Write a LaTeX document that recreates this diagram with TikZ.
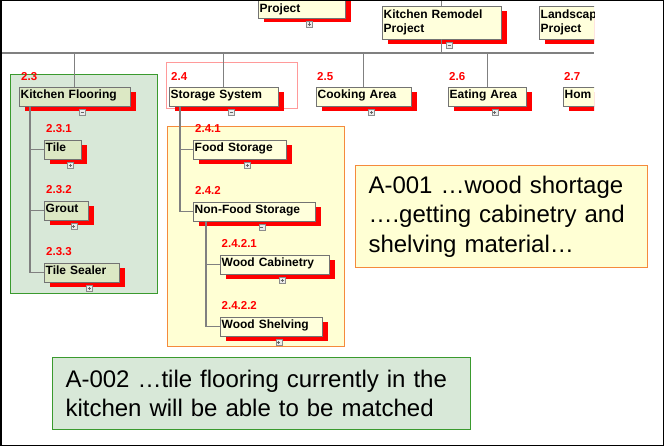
\documentclass[tikz,border=0pt]{standalone}
\usepackage{fontspec}
\setmainfont{Liberation Sans}
\usetikzlibrary{positioning,shadows,calc}
\definecolor{cream}{HTML}{FFFFDC}
\definecolor{leafgreen}{HTML}{DCE8C4}
\definecolor{greenbg}{HTML}{D8E8D8}
\definecolor{greenln}{HTML}{3A9A2E}
\definecolor{yellowbg}{HTML}{FFFFD4}
\definecolor{orangeln}{HTML}{F58A3C}
\definecolor{pinkln}{HTML}{FF9A9A}

\begin{document}
\begin{tikzpicture}[x=1pt, y=-1pt,
    wbs/.style={draw=black!55, fill=cream, anchor=north west, align=left, inner xsep=1.5pt, inner ysep=2pt,
                text height=9pt, text depth=6pt, font=\fontsize{12}{14}\selectfont\bfseries,
                drop shadow={shadow xshift=5.5pt, shadow yshift=-4.5pt, fill=red, opacity=1}},
    twoline/.style={text height=, text depth=, minimum height=33pt},
    num/.style={font=\fontsize{11.5}{12}\selectfont\bfseries, text=red, inner sep=0pt},
    conn/.style={draw=black!50, line width=1.2pt},
    tog/.style={draw=black!45, fill=black!8, minimum size=6pt, inner sep=0pt},
    tminus/.style={tog, path picture={\draw[black!60, line width=0.6pt]
        ([xshift=1.3pt]path picture bounding box.west) -- ([xshift=-1.3pt]path picture bounding box.east);}},
    tplus/.style={tog, path picture={\draw[black!60, line width=0.6pt]
        ([xshift=1.3pt]path picture bounding box.west) -- ([xshift=-1.3pt]path picture bounding box.east)
        ([yshift=-1.3pt]path picture bounding box.north) -- ([yshift=1.3pt]path picture bounding box.south);}},
    note/.style={anchor=north west, align=left, inner xsep=13pt, font=\fontsize{24}{29.5}\selectfont},
]
\useasboundingbox (0,0) rectangle (664,446);

\begin{scope}
\clip (2,2) rectangle (594,444);
\fill[greenbg, draw=greenln, line width=1pt] (10,75) rectangle (157,294);
\fill[yellowbg, draw=orangeln, line width=1pt] (167,127) rectangle (344,346);
\draw[pinkln, line width=1pt] (166,63) rectangle (297,109);

\coordinate (top) at (0,0);
\coordinate (busL) at (2,53);
\coordinate (busR) at (594,53);

\node[wbs, anchor=south west, text width=84pt, text height=24pt, text depth=3pt] (proj) at (258,18) {Project};
\node[wbs, twoline, text width=116pt] (kr) at (382,6) {Kitchen Remodel\\Project};
\node[wbs, twoline, text width=70pt] (land) at (539,6) {Landscap\\Project};

\node[wbs, fill=leafgreen, text width=108pt] (kf) at (19,87) {Kitchen Flooring};
\node[wbs, text width=106pt] (ss) at (169,87) {Storage System};
\node[wbs, text width=92pt] (ca) at (316,87) {Cooking Area};
\node[wbs, text width=75pt] (ea) at (448,87) {Eating Area};
\node[wbs, text width=60pt] (hom) at (563,87) {Hom};

\node[wbs, fill=leafgreen, text width=34pt] (tile) at (44,140) {Tile};
\node[wbs, fill=leafgreen, text width=41pt] (grout) at (44,201) {Grout};
\node[wbs, fill=leafgreen, text width=72pt] (sealer) at (44,263) {Tile Sealer};

\node[wbs, text width=90pt] (food) at (193,140) {Food Storage};
\node[wbs, text width=119pt] (nonfood) at (193,202) {Non-Food Storage};
\node[wbs, text width=106pt] (cab) at (220,255) {Wood Cabinetry};
\node[wbs, text width=99pt] (shelf) at (220,317) {Wood Shelving};

\node[num, above right=6pt and 2pt of kf.north west] (n23) {2.3};
\node[num, above right=6pt and 2pt of ss.north west] (n24) {2.4};
\node[num, above right=6pt and 1pt of ca.north west] (n25) {2.5};
\node[num, above right=6pt and 1pt of ea.north west] (n26) {2.6};
\node[num, above right=6pt and 1pt of hom.north west] (n27) {2.7};
\node[num, above right=7pt and 2pt of tile.north west] (n231) {2.3.1};
\node[num, above right=7pt and 2pt of grout.north west] (n232) {2.3.2};
\node[num, above right=7pt and 2pt of sealer.north west] (n233) {2.3.3};
\node[num, above right=7pt and 2pt of food.north west] (n241) {2.4.1};
\node[num, above right=7pt and 2pt of nonfood.north west] (n242) {2.4.2};
\node[num, above right=7pt and 1.5pt of cab.north west] (n2421) {2.4.2.1};
\node[num, above right=7pt and 1.5pt of shelf.north west] (n2422) {2.4.2.2};

\draw[conn] (busL) -- (busR);
\draw[conn] (kr.north) -- (kr.north |- top);
\draw[conn] (kr.south) -- (kr.south |- busL);
\foreach \n in {kf,ss,ca,ea}
  \draw[conn] (\n.north) -- (\n.north |- busL);
\foreach \c in {tile,grout,sealer}
  \draw[conn] ([xshift=11pt]kf.south west) |- (\c.west);
\foreach \c in {food,nonfood}
  \draw[conn] ([xshift=11pt]ss.south west) |- (\c.west);
\foreach \c in {cab,shelf}
  \draw[conn] ([xshift=13pt]nonfood.south west) |- (\c.west);

\foreach \n in {kr,kf,ss,nonfood}
  \node[tminus] (\n-t) at ([xshift=7.5pt,yshift=-6pt]\n.south) {};
\foreach \n in {proj,ca,ea,tile,grout,sealer,food,cab,shelf}
  \node[tplus] (\n-t) at ([xshift=7.5pt,yshift=-6pt]\n.south) {};
\end{scope}

\node[note, draw=orangeln, fill=yellowbg, line width=1pt, text width=266pt, minimum height=102pt] (a001) at (355,165)
  {A-001 …wood shortage\\….getting cabinetry and\\shelving material…};
\node[note, draw=greenln, fill=greenbg, line width=1pt, text width=392pt, minimum height=72pt] (a002) at (52,357)
  {A-002 …tile flooring currently in the\\kitchen will be able to be matched};

\draw[line width=1.5pt] (0.75,0.75) rectangle (663.25,445.25);
\end{tikzpicture}
\end{document}
